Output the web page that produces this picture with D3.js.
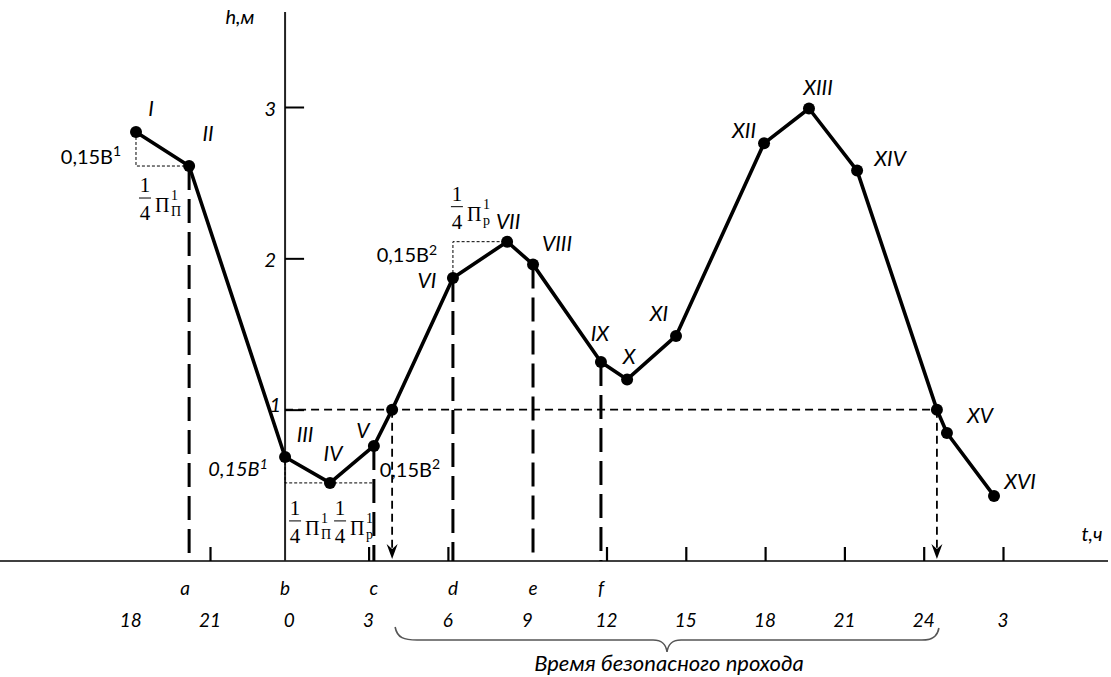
<!DOCTYPE html>
<html><head><meta charset="utf-8">
<script src="https://cdn.jsdelivr.net/npm/d3@7"></script>
<style>body{margin:0;background:#fff}</style>
</head><body>
<svg id="c" width="1111" height="677"></svg>
<script>
// ---- data ----
const pointLabels = ["I","II","III","IV","V","","VI","VII","VIII","IX","X","XI","XII","XIII","XIV","","XV","XVI"];
const pointTime   = [-5.80,-3.79,-0.16,1.54,3.20,3.89,6.19,8.24,9.22,11.79,12.78,14.63,17.96,19.66,21.48,24.50,24.88,26.66];
const pointLevel  = [2.835,2.61,0.687,0.516,0.76,1.0,1.87,2.11,1.96,1.315,1.20,1.487,2.76,2.99,2.58,1.0,0.846,0.43];
const hourTicks      = [-6,-3,0,3,6,9,12,15,18,21,24,27];
const hourTickLabels = ["18","21","0","3","6","9","12","15","18","21","24","3"];
const hourTickMarks  = [-3,3,6,12,15,18,21,24,27];
const levelTicks = [1,2,3];
const markerLetters  = ["a","b","c","d","e","f"];
const markerPointIdx = [1,2,4,6,8,9];
const crossingIdx = [5,15];
const safeLevel = 1;
const safeText = "Время безопасного прохода";

// ---- layout ----
const svg = d3.select("#c");
const x = d3.scaleLinear().domain([-3,27]).range([210,1003]);
const y = d3.scaleLinear().domain([0,3]).range([561,107]);
const X = i => x(pointTime[i]), Y = i => y(pointLevel[i]);
const ital = "Lato, 'Open Sans', sans-serif";
const serif = "'Liberation Serif', 'DejaVu Serif', serif";

// x axis
svg.append("line").attr("x1",0).attr("x2",1108).attr("y1",y(0)).attr("y2",y(0))
  .attr("stroke","#000").attr("stroke-width",1.6);
const xa = svg.append("g").attr("transform",`translate(0,${y(0)})`)
  .call(d3.axisTop(x).tickValues(hourTickMarks).tickSize(14).tickFormat(""));
xa.select(".domain").remove();
xa.selectAll(".tick line").attr("stroke","#000").attr("stroke-width",2.2);

// y axis
const x0 = X(2);
svg.append("line").attr("x1",x0).attr("x2",x0).attr("y1",12).attr("y2",y(0))
  .attr("stroke","#222").attr("stroke-width",2);
const ya = svg.append("g").attr("transform",`translate(${x0},0)`)
  .call(d3.axisLeft(y).tickValues(levelTicks).tickFormat(d3.format("d"))
    .tickSizeInner(-19).tickSizeOuter(0).tickPadding(9));
ya.select(".domain").remove();
ya.selectAll(".tick line").attr("stroke","#000").attr("stroke-width",2);
ya.selectAll(".tick text").attr("font-family",ital).attr("font-style","italic")
  .attr("font-size",20).attr("fill","#000")
  .attr("dx",d=>d===1?5:0).attr("dy",d=>d===1?"0.1em":"0.4em");

svg.append("text").attr("x",240).attr("y",24).attr("text-anchor","middle")
  .attr("font-family",ital).attr("font-style","italic").attr("font-size",20).text("h,м");
svg.append("text").attr("x",1092).attr("y",541).attr("text-anchor","middle")
  .attr("font-family",ital).attr("font-style","italic").attr("font-size",20).text("t,ч");

// safe level dashed line
svg.append("line").attr("x1",x0).attr("x2",X(crossingIdx[1])).attr("y1",y(safeLevel)).attr("y2",y(safeLevel))
  .attr("stroke","#000").attr("stroke-width",1.8).attr("stroke-dasharray","8,5");
crossingIdx.forEach(i=>{
  const cx = X(i);
  svg.append("line").attr("x1",cx).attr("x2",cx).attr("y1",y(safeLevel)).attr("y2",y(0)-8)
    .attr("stroke","#000").attr("stroke-width",1.8).attr("stroke-dasharray","8,5");
  const b = y(0)-2;
  svg.append("path").attr("d",`M${cx},${b} L${cx-5.5},${b-15} L${cx},${b-10} L${cx+5.5},${b-15} Z`).attr("fill","#000");
});

// long dashed verticals
markerPointIdx.forEach(i=>{
  if (i===2) return;
  svg.append("line").attr("x1",X(i)).attr("x2",X(i)).attr("y1",Y(i)).attr("y2",y(0))
    .attr("stroke","#000").attr("stroke-width",3).attr("stroke-dasharray","24,9");
});

// thin dotted guides
const dot = d => svg.append("path").attr("d",d).attr("fill","none")
  .attr("stroke","#000").attr("stroke-width",1).attr("stroke-dasharray","3,2");
dot(`M${X(0)},${Y(0)} V${Y(1)} H${X(1)}`);
dot(`M${X(2)},${Y(2)} V${Y(3)} H${X(4)}`);
dot(`M${X(6)},${Y(6)} V${Y(7)} H${X(7)}`);

// main line
const line = d3.line().x((d,i)=>X(i)).y((d,i)=>Y(i));
svg.append("path").datum(pointTime).attr("d",line).attr("fill","none")
  .attr("stroke","#000").attr("stroke-width",3.6).attr("stroke-linejoin","round");
svg.selectAll("circle.p").data(pointTime).join("circle")
  .attr("cx",(d,i)=>X(i)).attr("cy",(d,i)=>Y(i)).attr("r",6).attr("fill","#000");

// point labels
const labOff = {"I":[15,-24],"II":[19,-33],"III":[20,-23],"IV":[3,-29],"V":[-11,-16],"VI":[-26,2],
  "VII":[1,-20],"VIII":[24,-21],"IX":[-1,-29],"X":[2,-23],"XI":[-17,-23],"XII":[-20,-13],
  "XIII":[9,-21],"XIV":[33,-12],"XV":[33,-18],"XVI":[26,-14]};
pointLabels.forEach((l,i)=>{
  if(!l) return;
  const o = labOff[l];
  svg.append("text").attr("x",X(i)+o[0]).attr("y",Y(i)+o[1]).attr("dy","0.36em")
    .attr("text-anchor","middle").attr("font-family",ital).attr("font-style","italic")
    .attr("font-size",21).attr("fill","#000").text(l);
});

// 0,15B annotations (with superscript)
const note = (tx,ty,base,sup,it) => {
  const t = svg.append("text").attr("x",tx).attr("y",ty).attr("dy","0.36em")
    .attr("text-anchor","middle").attr("font-family",ital).attr("font-style",it?"italic":"normal")
    .attr("font-size",20).attr("fill","#000");
  t.append("tspan").text(base);
  t.append("tspan").attr("font-size",14).attr("dy","-0.55em").text(sup);
};
note(X(0)-45, Y(0)+25, "0,15В", "1", false);
note(X(2)-47, Y(2)+12, "0,15В", "1", true);
note(X(4)+36, Y(4)+24, "0,15В", "2", false);
note(X(6)-46, Y(6)-23, "0,15В", "2", false);

// fractions 1/4 Π
function frac(cx, by, sub){
  const g = svg.append("g").attr("font-family",serif).attr("fill","#000");
  g.append("text").attr("x",cx).attr("y",by-6).attr("text-anchor","middle").attr("font-size",21).text("1");
  g.append("line").attr("x1",cx-6).attr("x2",cx+6).attr("y1",by).attr("y2",by).attr("stroke","#000").attr("stroke-width",1);
  g.append("text").attr("x",cx).attr("y",by+22).attr("text-anchor","middle").attr("font-size",21).text("4");
  g.append("text").attr("x",cx+10).attr("y",by+14).attr("font-size",20).text("Π");
  g.append("text").attr("x",cx+26).attr("y",by+2).attr("font-size",14).text("1");
  g.append("text").attr("x",cx+26).attr("y",by+18).attr("font-size",14).text(sub);
}
frac(X(0)+9, Y(1)+32, "П");
frac(X(2)+10, Y(3)+38, "П");
frac(X(2)+55, Y(3)+38, "р");
frac(X(6)+4, Y(7)-35, "р");

// letters a-f
markerLetters.forEach((l,k)=>{
  const i = markerPointIdx[k];
  svg.append("text").attr("x",X(i)-(k===0?4:0)).attr("y",588).attr("dy","0.36em").attr("text-anchor","middle")
    .attr("font-family",ital).attr("font-style","italic").attr("font-size",19).text(l);
});
// hour labels
hourTicks.forEach((t,k)=>{
  svg.append("text").attr("x",x(t)).attr("y",620).attr("dy","0.36em").attr("text-anchor","middle")
    .attr("font-family",ital).attr("font-style","italic").attr("font-size",19).text(hourTickLabels[k]);
});

// brace
const bl = X(crossingIdx[0])+3, br = X(crossingIdx[1])+2, bm = (bl+br)/2;
svg.append("path").attr("d",
  `M${bl},627 C${bl+2},638 ${bl+9},640 ${bl+22},640 L${bm-14},640 C${bm-4},640 ${bm-1},645 ${bm},652 C${bm+1},645 ${bm+4},640 ${bm+14},640 L${br-17},640 C${br-4},640 ${br-1},634 ${br},628`)
  .attr("fill","none").attr("stroke","#555").attr("stroke-width",1.6);
svg.append("text").attr("x",bm+2).attr("y",663).attr("dy","0.36em").attr("text-anchor","middle")
  .attr("font-family",ital).attr("font-style","italic").attr("font-size",22).text(safeText);
</script>
</body></html>
